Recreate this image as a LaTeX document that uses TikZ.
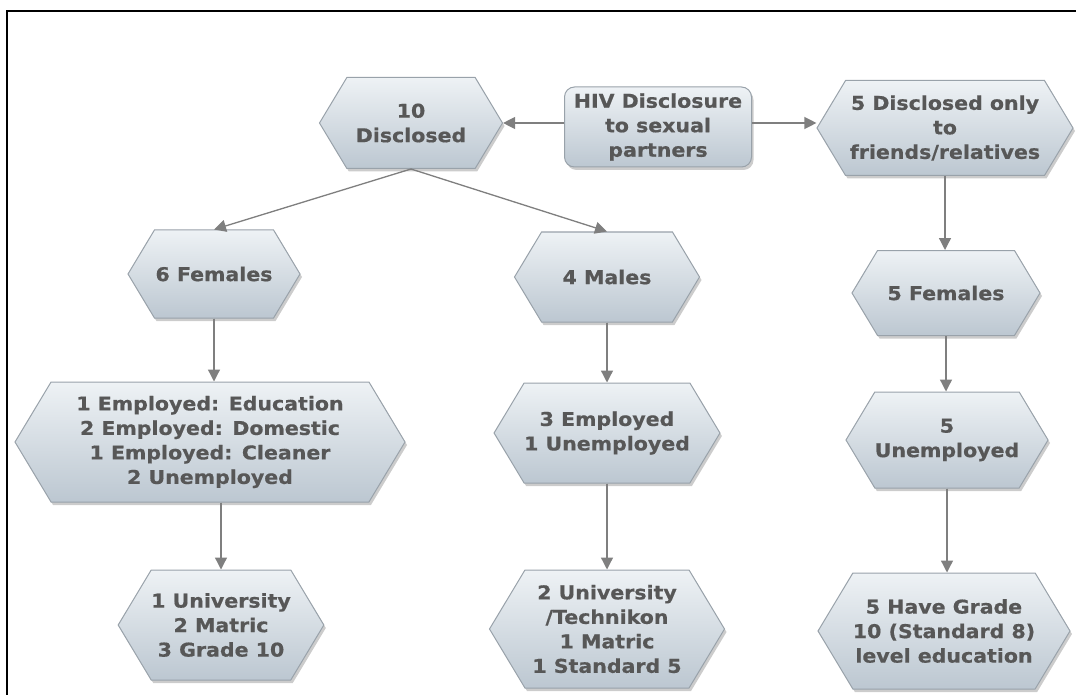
\documentclass[tikz,border=0pt]{standalone}
\usepackage{fontspec}
\usetikzlibrary{arrows.meta, shapes.symbols, shadows, positioning}
\newfontfamily\boxfont{DejaVu Sans}[FakeStretch=1.08, FakeBold=0.6]
\definecolor{boxtop}{HTML}{EEF2F5}
\definecolor{boxbot}{HTML}{BCC7D1}
\definecolor{boxline}{HTML}{99A2AA}
\definecolor{boxtext}{HTML}{575757}
\definecolor{flowgris}{HTML}{7F7F7F}

\tikzset{
  boxbase/.style={draw=boxline, line width=1pt, top color=boxtop,
    bottom color=boxbot, text=boxtext,
    font=\boxfont\bfseries\fontsize{19}{24.5}\selectfont,
    align=center, inner sep=0pt,
    drop shadow={shadow xshift=2pt, shadow yshift=-3pt, opacity=0.4}},
  hexbox/.style={boxbase, signal, signal to=west and east,
    signal pointer angle=118},
  rootbox/.style={boxbase, rectangle, rounded corners=10pt},
  flow/.style={draw=flowgris, line width=1.3pt,
    -{Triangle[length=12pt, width=12pt]}, fill=flowgris},
}

\begin{document}
\begin{tikzpicture}[x=1pt, y=-1pt]
  \useasboundingbox (0,0) rectangle (1076,695);

  % Cadre
  \draw[line width=2.5pt] (7,695) -- (7,11) -- (1076,11);

  % Niveau 1
  \node[rootbox, minimum width=187pt, minimum height=80pt] (root) at (658,127)
    {HIV Disclosure\\to sexual\\partners};
  \node[hexbox, minimum width=183pt, minimum height=91pt] (dis10) at (411,123)
    {10\\Disclosed};
  \node[hexbox, minimum width=256pt, minimum height=95pt] (dis5) at (945,128)
    {5 Disclosed only\\to\\friends/relatives};

  % Niveau 2
  \node[hexbox, minimum width=172pt, minimum height=88pt] (fem6) at (214,274)
    {6 Females};
  \node[hexbox, minimum width=185pt, minimum height=90pt] (male4) at (607,277)
    {4 Males};
  \node[hexbox, minimum width=188pt, minimum height=85pt] (fem5) at (946,293)
    {5 Females};

  % Niveau 3
  \node[hexbox, minimum width=390pt, minimum height=120pt] (emp6) at (210,442)
    {1 Employed: Education\\2 Employed: Domestic\\1 Employed: Cleaner\\2 Unemployed};
  \node[hexbox, minimum width=225pt, minimum height=100pt] (emp4) at (607,433)
    {3 Employed\\1 Unemployed};
  \node[hexbox, minimum width=185pt, minimum height=96pt] (unemp5) at (947,440)
    {5\\Unemployed};

  % Niveau 4
  \node[hexbox, minimum width=158pt, minimum height=110pt] (edu6) at (221,625)
    {1 University\\2 Matric\\3 Grade 10};
  \node[hexbox, minimum width=235pt, minimum height=118pt] (edu4) at (607,629)
    {2 University\\/Technikon\\1 Matric\\1 Standard 5};
  \node[hexbox, minimum width=245pt, minimum height=116pt] (edu5) at (944,631)
    {5 Have Grade\\10 (Standard 8)\\level education};

  % Liaisons
  \draw[flow] (root.west |- dis10.east) -- (dis10.east);
  \draw[flow] (root.east |- dis10.east) -- (dis5.west |- dis10.east);
  \draw[flow] (dis10.south) -- (fem6.north);
  \draw[flow] (dis10.south) -- (male4.north);
  \draw[flow] (fem6.south) -- (emp6.north -| fem6.south);
  \draw[flow] (emp6.south -| edu6.north) -- (edu6.north);
  \draw[flow] (male4.south) -- (emp4.north);
  \draw[flow] (emp4.south) -- (edu4.north);
  \draw[flow] (dis5.south) -- (fem5.north -| dis5.south);
  \draw[flow] (fem5.south) -- (unemp5.north -| fem5.south);
  \draw[flow] (unemp5.south) -- (edu5.north -| unemp5.south);

\end{tikzpicture}
\end{document}
